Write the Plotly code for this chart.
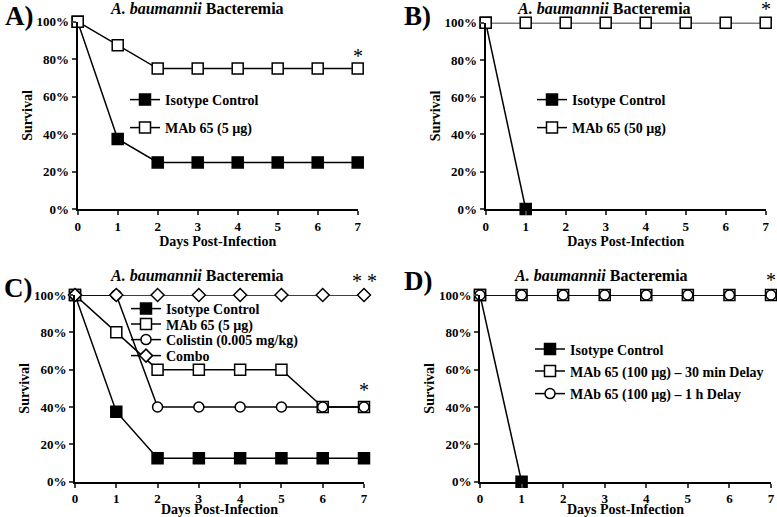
import plotly.graph_objects as go

# ---------------- data ----------------
days = [0, 1, 2, 3, 4, 5, 6, 7]
days_short = [0, 1]

a_isotype = [100, 37.5, 25, 25, 25, 25, 25, 25]
a_mab_5ug = [100, 87.5, 75, 75, 75, 75, 75, 75]

b_isotype = [100, 0]
b_mab_50ug = [100, 100, 100, 100, 100, 100, 100, 100]

c_isotype = [100, 37.5, 12.5, 12.5, 12.5, 12.5, 12.5, 12.5]
c_mab_5ug = [100, 80, 60, 60, 60, 60, 40, 40]
c_colistin = [100, 100, 40, 40, 40, 40, 40, 40]
c_combo = [100, 100, 100, 100, 100, 100, 100, 100]

d_isotype = [100, 0]
d_mab_30min = [100, 100, 100, 100, 100, 100, 100, 100]
d_mab_1h = [100, 100, 100, 100, 100, 100, 100, 100]

y_ticks = [0, 20, 40, 60, 80, 100]
y_tick_labels = ["0%", "20%", "40%", "60%", "80%", "100%"]
x_ticks = [0, 1, 2, 3, 4, 5, 6, 7]

FONT = "Liberation Serif"
W, H = 777, 517

fig = go.Figure()


def px_x(p):
    return p / W


def px_y(p):
    return (H - p) / H


legfont = dict(family=FONT, size=14, color="black", weight="bold")
legends = {}
leg_count = [0]


def add(x, y, name, ax, symbol, fill, text_x, row_y):
    leg_count[0] += 1
    lname = "legend" if leg_count[0] == 1 else "legend%d" % leg_count[0]
    legends[lname] = dict(font=legfont, bgcolor="rgba(0,0,0,0)", itemwidth=30,
                          x=px_x(text_x - 41), y=px_y(row_y), xanchor="left",
                          yanchor="middle", itemclick=False,
                          itemdoubleclick=False)
    fig.add_trace(go.Scatter(
        x=x, y=y, name=name, mode="lines+markers",
        xaxis="x" + ax, yaxis="y" + ax, legend=lname,
        line=dict(color="black", width=1.5),
        marker=dict(symbol=symbol, size=11 if "square" in symbol else 10,
                    color=fill, line=dict(color="black", width=1.5)),
        cliponaxis=False,
    ))


# Panel A
add(days, a_isotype, "Isotype Control", "", "square", "black", 166, 100)
add(days, a_mab_5ug, "MAb 65 (5 µg)", "", "square", "white", 166, 128)
# Panel B
add(days_short, b_isotype, "Isotype Control", "2", "square", "black", 573, 100)
add(days, b_mab_50ug, "MAb 65 (50 µg)", "2", "square", "white", 573, 128)
# Panel C
add(days, c_isotype, "Isotype Control", "3", "square", "black", 167, 309)
add(days, c_mab_5ug, "MAb 65 (5 µg)", "3", "square", "white", 167, 324.5)
add(days, c_colistin, "Colistin (0.005 mg/kg)", "3", "circle", "white", 167, 340)
add(days, c_combo, "Combo", "3", "diamond", "white", 167, 356)
# Panel D
add(days_short, d_isotype, "Isotype Control", "4", "square", "black", 571, 349.5)
add(days, d_mab_30min, "MAb 65 (100 µg) – 30 min Delay", "4", "square", "white", 571, 371.5)
add(days, d_mab_1h, "MAb 65 (100 µg) – 1 h Delay", "4", "circle", "white", 571, 394)


# plot areas in pixels (left, right, top, bottom)
areas = {
    "": (77.7, 357.7, 21.7, 209.3),
    "2": (485.7, 765.7, 22.7, 209.0),
    "3": (75.0, 364.0, 295.0, 481.7),
    "4": (480.0, 771.0, 295.0, 481.7),
}

tickfont = dict(family=FONT, size=13, color="black", weight="bold")
titlefont = dict(family=FONT, size=14, color="black", weight="bold")

layout = dict(
    width=W, height=H,
    margin=dict(l=0, r=0, t=0, b=0),
    paper_bgcolor="white", plot_bgcolor="white",
    showlegend=True,
    font=dict(family=FONT, color="black"),
)

for k, (l, r, t, b) in areas.items():
    layout["xaxis" + k] = dict(
        domain=[px_x(l), px_x(r)], anchor="y" + k, range=[0, 7],
        tickvals=x_ticks, ticks="outside", ticklen=4, tickwidth=1.5,
        showline=True, linewidth=2, linecolor="black", showgrid=False,
        zeroline=False, tickfont=tickfont, automargin=False,
        title=dict(text="Days Post-Infection", font=titlefont, standoff=2),
    )
    layout["yaxis" + k] = dict(
        domain=[px_y(b), px_y(t)], anchor="x" + k, range=[0, 100],
        tickvals=y_ticks, ticktext=y_tick_labels, ticks="outside", ticklen=4,
        tickwidth=1.5, showline=True, linewidth=2, linecolor="black",
        showgrid=False, zeroline=False, tickfont=tickfont, automargin=False,
        title=dict(text="Survival", font=titlefont, standoff=1),
    )

layout.update(legends)
fig.update_layout(**layout)

ann = []
title_txt = "<b><i>A. baumannii</i> Bacteremia</b>"
for (cx, cy) in [(197, 8), (604, 8), (197.5, 276), (601, 276)]:
    ann.append(dict(text=title_txt, x=px_x(cx), y=px_y(cy), xref="paper",
                    yref="paper", xanchor="center", yanchor="middle",
                    showarrow=False, font=dict(family=FONT, size=16, color="black")))
for (lab, cx, cy) in [("A)", 3, 16), ("B)", 402, 16), ("C)", 2, 288), ("D)", 402, 281)]:
    ann.append(dict(text="<b>" + lab + "</b>", x=px_x(cx), y=px_y(cy), xref="paper",
                    yref="paper", xanchor="left", yanchor="middle",
                    showarrow=False, font=dict(family=FONT, size=27, color="black")))

star_font = dict(family=FONT, size=20, color="black")
for (txt, ax, yv, shift) in [("*", "", 75, 13), ("*", "2", 100, 14),
                             ("* *", "3", 100, 14), ("*", "3", 40, 17),
                             ("*", "4", 100, 15)]:
    ann.append(dict(text=txt, x=7, y=yv, xref="x" + ax, yref="y" + ax,
                    showarrow=False, yshift=shift, xanchor="center",
                    yanchor="middle", font=star_font))

fig.update_layout(annotations=ann)
fig.write_html("out.html", config={"displayModeBar": False},
               post_script="document.body.style.margin='0';"
                           "document.body.style.overflow='hidden';")
